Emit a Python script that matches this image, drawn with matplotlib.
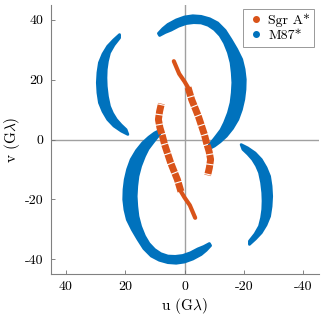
import numpy as np
import matplotlib
matplotlib.use("Agg")
import matplotlib.pyplot as plt
from matplotlib.lines import Line2D

# ---------------- data ----------------
# M87* uv tracks: each band given by outer and inner edge points (u, v) in G-lambda.
m87_arcA_outer_u = [8.8, 7.3, 5.6, 2.8, 0.0, -2.8, -5.6, -8.5, -11.2, -13.7, -15.7, -17.6,
                    -19.3, -20.1, -20.5, -20.4, -20.0, -19.2, -18.0, -16.2, -14.1, -12.0, -10.1, -7.9]
m87_arcA_outer_v = [35.5, 37.1, 38.5, 40.0, 41.0, 41.4, 41.2, 40.4, 39.0, 36.5, 33.4, 30.2,
                    26.8, 23.5, 20.1, 16.7, 13.4, 10.0, 6.7, 3.7, 1.1, -0.8, -2.2, -3.3]
m87_arcA_inner_u = [8.4, 6.5, 4.5, 2.0, -0.6, -3.1, -5.6, -8.0, -10.1, -12.0, -13.5, -14.8,
                    -15.7, -16.1, -16.3, -16.1, -15.7, -14.8, -13.5, -12.3, -10.7, -9.6, -8.4]
m87_arcA_inner_v = [34.8, 35.8, 36.6, 37.9, 38.8, 39.1, 39.0, 38.2, 36.8, 34.8, 32.3, 29.1,
                    25.7, 22.3, 19.0, 15.6, 12.3, 8.9, 5.6, 3.2, 1.1, -0.3, -1.7]

m87_arcB_outer_u = [21.9, 23.9, 25.9, 27.5, 28.7, 29.2, 29.4, 29.2, 28.7, 27.5, 25.9, 23.8, 21.3, 19.1]
m87_arcB_outer_v = [35.1, 33.3, 31.2, 28.6, 25.7, 22.4, 19.0, 15.6, 12.3, 9.4, 6.7, 4.5, 2.8, 1.7]
m87_arcB_inner_u = [21.9, 23.8, 25.3, 26.0, 26.4, 26.5, 26.4, 26.0, 25.3, 24.3, 23.0, 21.4, 19.7]
m87_arcB_inner_v = [34.0, 31.6, 29.0, 26.2, 23.4, 20.6, 17.8, 14.4, 11.1, 8.8, 6.7, 4.9, 3.3]

# Sgr A* track (one half; the other half is the conjugate -u, -v)
sgr_thin_u = [3.6, 1.8, 0.0, -1.2]
sgr_thin_v = [26.2, 22.0, 19.4, 17.4]
sgr_scan_u = [-1.2, -2.4, -3.5, -4.7, -5.7, -6.7, -7.4, -8.3, -8.8, -8.4, -7.8]
sgr_scan_v = [17.4, 13.4, 10.7, 7.7, 4.7, 1.7, -1.0, -4.0, -6.7, -9.4, -12.0]

x_ticks = [40, 20, 0, -20, -40]
x_tick_labels = ["40", "20", "0", "-20", "-40"]
y_ticks = [-40, -20, 0, 20, 40]
y_tick_labels = ["-40", "-20", "0", "20", "40"]

series_names = ["Sgr A*", "M87*"]
c_sgr = "#D95319"
c_m87 = "#0072BD"

# ---------------- figure ----------------
plt.rcParams["font.family"] = ["cmr10", "DejaVu Serif"]
plt.rcParams["mathtext.fontset"] = "cm"
plt.rcParams["axes.unicode_minus"] = False
plt.rcParams["axes.formatter.use_mathtext"] = True

fig = plt.figure(figsize=(3.32, 3.21), dpi=100)
ax = fig.add_axes([50.5 / 332, 1 - 274 / 321, 268 / 332, 269 / 321])

ax.axhline(0, color="#a0a0a0", lw=1.0, zorder=0)
ax.axvline(0, color="#a0a0a0", lw=1.0, zorder=0)


def band(ou, ov, iu, iv, sign):
    pu = np.concatenate([np.array(ou), np.array(iu)[::-1]]) * sign
    pv = np.concatenate([np.array(ov), np.array(iv)[::-1]]) * sign
    ax.fill(pu, pv, color=c_m87, lw=2.0, edgecolor=c_m87, joinstyle="round", zorder=2)


for s in (1, -1):
    band(m87_arcA_outer_u, m87_arcA_outer_v, m87_arcA_inner_u, m87_arcA_inner_v, s)
    band(m87_arcB_outer_u, m87_arcB_outer_v, m87_arcB_inner_u, m87_arcB_inner_v, s)

for s in (1, -1):
    ax.plot(np.array(sgr_thin_u) * s, np.array(sgr_thin_v) * s, color=c_sgr, lw=3.0,
            solid_capstyle="round", solid_joinstyle="round", zorder=3)
    ax.plot(np.array(sgr_scan_u) * s, np.array(sgr_scan_v) * s, color=c_sgr, lw=5.0,
            linestyle=(0, (1.3, 0.16)), dash_capstyle="butt", zorder=3)

ax.set_xlim(45.2, -45.2)
ax.set_ylim(-45, 45)
ax.set_xticks(x_ticks)
ax.set_xticklabels(x_tick_labels)
ax.set_yticks(y_ticks)
ax.set_yticklabels(y_tick_labels)
ax.tick_params(direction="in", length=3, width=0.6, color="#707070", labelsize=10, pad=5)
for sp in ("top", "right"):
    ax.spines[sp].set_visible(False)
for sp in ("left", "bottom"):
    ax.spines[sp].set_color("#808080")
    ax.spines[sp].set_linewidth(0.8)

ax.set_xlabel(r"u (G$\lambda$)", fontsize=11, labelpad=2)
ax.set_ylabel(r"v (G$\lambda$)", fontsize=11, labelpad=2)

handles = [Line2D([], [], ls="none", marker="o", ms=4, color=c_sgr),
           Line2D([], [], ls="none", marker="o", ms=4, color=c_m87)]
leg = ax.legend(handles, series_names, loc="upper right", fontsize=10, frameon=True,
                fancybox=False, edgecolor="#808080", handletextpad=0.3, handlelength=1.2,
                borderpad=0.3, labelspacing=0.2, borderaxespad=0.3)
leg.get_frame().set_linewidth(0.7)

fig.savefig("out.png", dpi=100)
